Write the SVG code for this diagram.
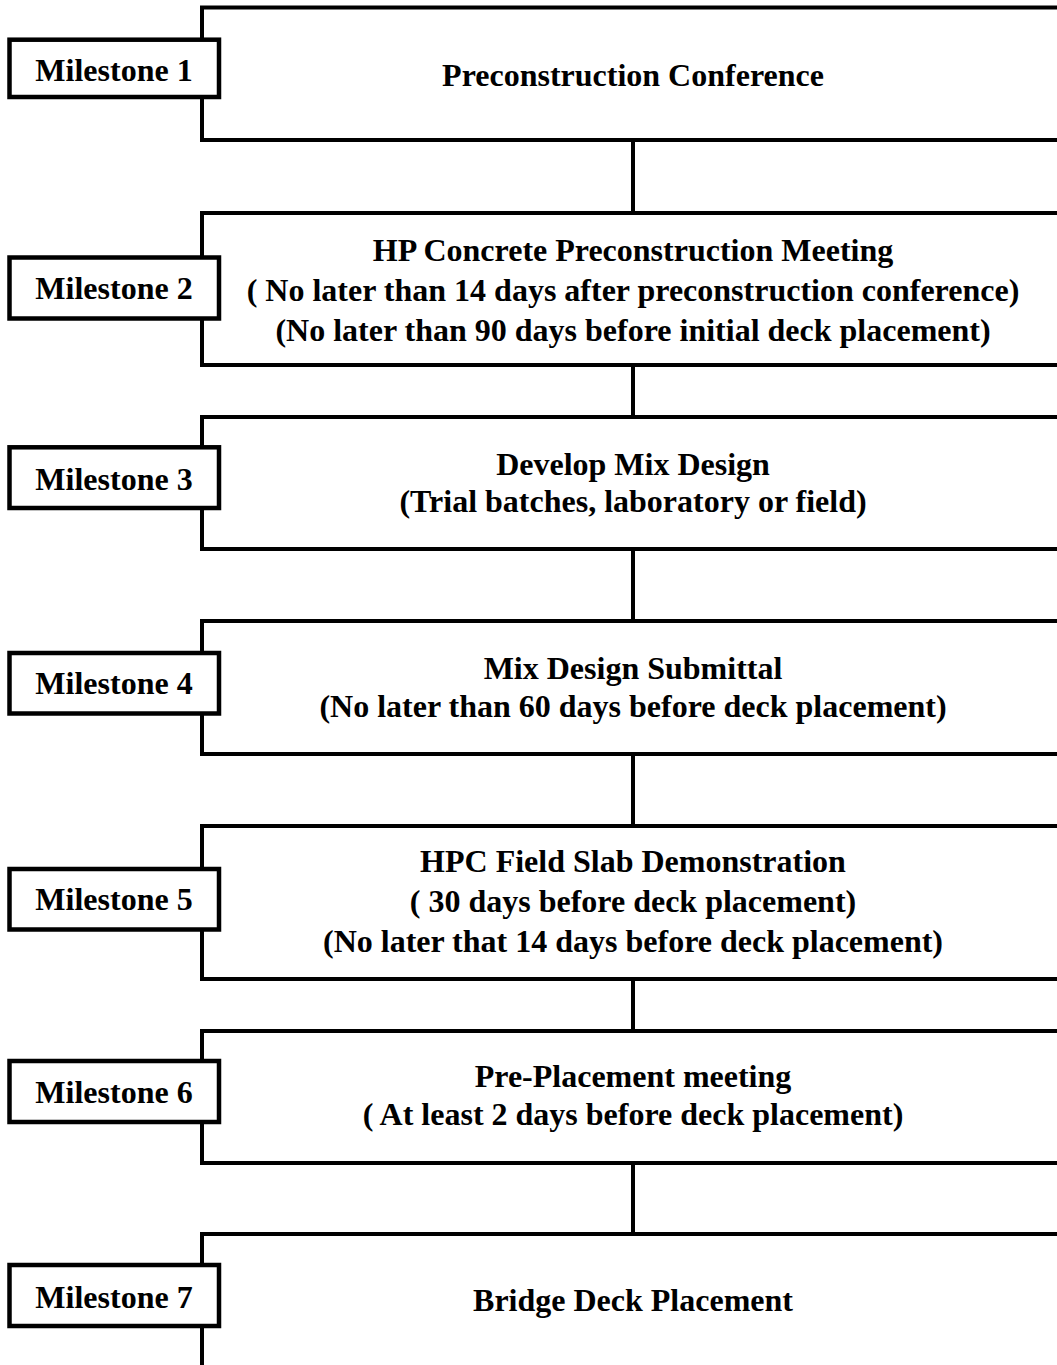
<svg xmlns="http://www.w3.org/2000/svg" width="1057" height="1365" viewBox="0 0 1057 1365">
<style>
.box{fill:#fff;stroke:#000;stroke-width:4}
.ms{fill:#fff;stroke:#000;stroke-width:4.5}
.con{stroke:#000;stroke-width:4;fill:none}
text{font-family:"Liberation Serif","Times New Roman",serif;font-weight:bold;font-size:32px;fill:#000;text-anchor:middle}
</style>
<rect width="1057" height="1365" fill="#fff"/>
<g id="connectors">
<line class="con" x1="633" y1="140" x2="633" y2="213"/>
<line class="con" x1="633" y1="365" x2="633" y2="417"/>
<line class="con" x1="633" y1="549" x2="633" y2="621"/>
<line class="con" x1="633" y1="754" x2="633" y2="826"/>
<line class="con" x1="633" y1="979" x2="633" y2="1031"/>
<line class="con" x1="633" y1="1163" x2="633" y2="1234"/>
</g>
<g id="step1">
<path class="box" d="M1062 7.5H202V140H1062"/>
<text x="633" y="86">Preconstruction Conference</text>
</g>
<g id="step2">
<path class="box" d="M1062 213H202V365H1062"/>
<text x="633" y="261">HP Concrete Preconstruction Meeting</text>
<text x="633" y="301">( No later than 14 days after preconstruction conference)</text>
<text x="633" y="341">(No later than 90 days before initial deck placement)</text>
</g>
<g id="step3">
<path class="box" d="M1062 417H202V549H1062"/>
<text x="633" y="475">Develop Mix Design</text>
<text x="633" y="512">(Trial batches, laboratory or field)</text>
</g>
<g id="step4">
<path class="box" d="M1062 621H202V754H1062"/>
<text x="633" y="679">Mix Design Submittal</text>
<text x="633" y="717">(No later than 60 days before deck placement)</text>
</g>
<g id="step5">
<path class="box" d="M1062 826H202V979H1062"/>
<text x="633" y="872">HPC Field Slab Demonstration</text>
<text x="633" y="912">( 30 days before deck placement)</text>
<text x="633" y="952">(No later that 14 days before deck placement)</text>
</g>
<g id="step6">
<path class="box" d="M1062 1031H202V1163H1062"/>
<text x="633" y="1087">Pre-Placement meeting</text>
<text x="633" y="1125">( At least 2 days before deck placement)</text>
</g>
<g id="step7">
<path class="box" d="M1062 1234H202V1370"/>
<text x="633" y="1311">Bridge Deck Placement</text>
</g>
<g id="milestone1"><rect class="ms" x="9.5" y="39.7" width="209.5" height="57.3"/><text x="114" y="81">Milestone 1</text></g>
<g id="milestone2"><rect class="ms" x="9.5" y="257.5" width="209.5" height="61"/><text x="114" y="299">Milestone 2</text></g>
<g id="milestone3"><rect class="ms" x="9.5" y="447.3" width="209.5" height="60.7"/><text x="114" y="490">Milestone 3</text></g>
<g id="milestone4"><rect class="ms" x="9.5" y="653" width="209.5" height="60.5"/><text x="114" y="694">Milestone 4</text></g>
<g id="milestone5"><rect class="ms" x="9.5" y="869" width="209.5" height="60.5"/><text x="114" y="910">Milestone 5</text></g>
<g id="milestone6"><rect class="ms" x="9.5" y="1061" width="209.5" height="61"/><text x="114" y="1103">Milestone 6</text></g>
<g id="milestone7"><rect class="ms" x="9.5" y="1265" width="209.5" height="61"/><text x="114" y="1308">Milestone 7</text></g>
</svg>
